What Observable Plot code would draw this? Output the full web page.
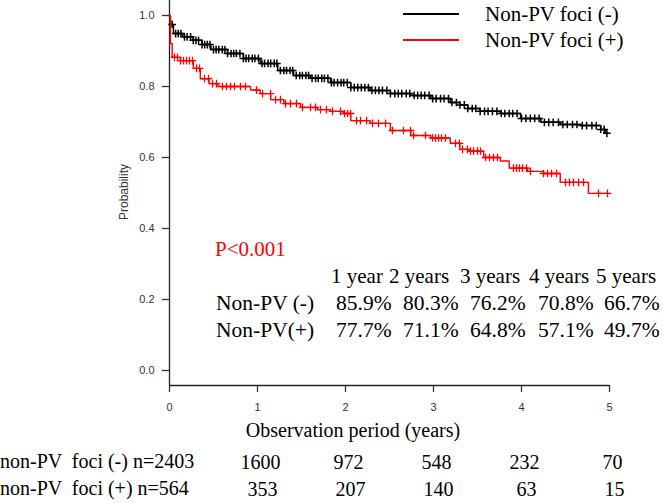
<!DOCTYPE html>
<html><head><meta charset="utf-8">
<script src="https://cdn.jsdelivr.net/npm/d3@7"></script>
<script src="https://cdn.jsdelivr.net/npm/@observablehq/plot@0.6"></script>
<style>body{margin:0;background:#fff} svg{display:block}</style>
</head><body><div id="chart"></div>
<script>
// ---- data ----
const xTicks = [0, 1, 2, 3, 4, 5];
const yTicks = [0, 0.2, 0.4, 0.6, 0.8, 1.0];
const groups = ["Non-PV foci (-)", "Non-PV foci (+)"];
const groupColors = ["#000000", "#ff0000"];
const yLabel = "Probability";
const xLabel = "Observation period (years)";
const pText = "P<0.001";

// Kaplan-Meier step points
const negTime = [0, 0.01, 0.045, 0.15, 0.27, 0.37, 0.47, 0.66, 0.84, 1.03, 1.23, 1.41, 1.60, 1.83, 2.06, 2.28, 2.51, 2.74, 2.97, 3.19, 3.30, 3.39, 3.53, 3.76, 3.99, 4.22, 4.44, 4.67, 4.90, 4.95, 4.98];
const negSurv = [1.0, 0.975, 0.949, 0.940, 0.930, 0.918, 0.904, 0.893, 0.879, 0.865, 0.845, 0.831, 0.823, 0.811, 0.797, 0.789, 0.780, 0.775, 0.766, 0.755, 0.748, 0.738, 0.730, 0.724, 0.710, 0.699, 0.693, 0.690, 0.679, 0.668, 0.668];
const posTime = [0, 0.01, 0.03, 0.125, 0.27, 0.35, 0.45, 0.55, 0.92, 1.03, 1.15, 1.30, 1.49, 1.68, 1.83, 1.98, 2.06, 2.28, 2.51, 2.74, 2.97, 3.19, 3.30, 3.39, 3.57, 3.76, 3.86, 4.07, 4.25, 4.44, 4.76, 4.98];
const posSurv = [1.0, 0.921, 0.882, 0.873, 0.851, 0.822, 0.808, 0.800, 0.790, 0.780, 0.763, 0.752, 0.741, 0.735, 0.730, 0.724, 0.704, 0.696, 0.676, 0.662, 0.655, 0.640, 0.623, 0.618, 0.600, 0.590, 0.570, 0.561, 0.555, 0.530, 0.499, 0.499];

// censoring marks (years)
const negCensor = [0.03,0.07,0.1,0.13,0.17,0.2,0.24,0.27,0.3,0.33,0.37,0.4,0.43,0.46,0.5,0.53,0.56,0.6,0.63,0.66,0.7,0.73,0.76,0.8,0.84,0.87,0.9,0.94,0.97,1.01,1.05,1.08,1.12,1.15,1.19,1.22,1.26,1.3,1.33,1.37,1.4,1.44,1.48,1.51,1.55,1.58,1.62,1.66,1.69,1.73,1.76,1.8,1.84,1.87,1.91,1.95,1.98,2.02,2.06,2.1,2.14,2.18,2.22,2.26,2.3,2.34,2.38,2.42,2.47,2.51,2.56,2.6,2.64,2.69,2.73,2.78,2.82,2.86,2.9,2.95,2.99,3.03,3.08,3.12,3.17,3.21,3.26,3.3,3.35,3.39,3.44,3.48,3.53,3.58,3.62,3.67,3.72,3.77,3.81,3.86,3.9,3.95,4.0,4.05,4.1,4.15,4.2,4.26,4.31,4.36,4.42,4.47,4.52,4.58,4.63,4.69,4.74,4.8,4.85,4.9,4.94,4.97];
const posCensor = [0.057,0.091,0.125,0.159,0.193,0.227,0.261,0.307,0.341,0.398,0.443,0.489,0.534,0.602,0.648,0.693,0.739,0.807,0.864,0.989,1.057,1.148,1.205,1.261,1.318,1.375,1.443,1.511,1.602,1.659,1.716,1.784,1.852,1.943,1.989,2.023,2.057,2.125,2.170,2.239,2.307,2.375,2.455,2.534,2.659,2.739,2.773,2.909,2.989,3.023,3.057,3.091,3.136,3.250,3.295,3.330,3.386,3.420,3.455,3.500,3.534,3.591,3.636,3.682,3.727,3.909,3.943,3.977,4.011,4.057,4.102,4.250,4.295,4.341,4.398,4.5,4.545,4.591,4.648,4.705,4.875,4.977];

const tableHeader = ["1 year", "2 years", "3 years", "4 years", "5 years"];
const tableRows = ["Non-PV (-)", "Non-PV(+)"];
const negPct = ["85.9%", "80.3%", "76.2%", "70.8%", "66.7%"];
const posPct = ["77.7%", "71.1%", "64.8%", "57.1%", "49.7%"];

const riskLabels = ["non-PV  foci (-) n=2403", "non-PV  foci (+) n=564"];
const riskTimes = [1, 2, 3, 4, 5];
const negRisk = [1600, 972, 548, 232, 70];
const posRisk = [353, 207, 140, 63, 15];

// ---- build ----
const SERIF = "'Liberation Serif','Times New Roman',serif";
const SANS = "'Liberation Sans',Arial,sans-serif";
const yMin = -15/355, yMax = 1 + 15/355;

function stepAt(times, surv, t) {
  const i = d3.bisectRight(times, t) - 1;
  return surv[Math.max(0, i)];
}
const negLine = negTime.map((t, i) => ({t, s: negSurv[i]}));
const posLine = posTime.map((t, i) => ({t, s: posSurv[i]}));
const negMarks = negCensor.map(t => ({t, s: stepAt(negTime, negSurv, t)}));
const posMarks = posCensor.map(t => ({t, s: stepAt(posTime, posSurv, t)}));

const chart = Plot.plot({
  width: 663, height: 503,
  marginLeft: 169, marginRight: 54, marginTop: 0, marginBottom: 118,
  x: {domain: [0, 5]},
  y: {domain: [yMin, yMax]},
  style: {background: "#fff", overflow: "visible"},
  marks: [
    Plot.ruleX([0], {y1: yMin, y2: yMax, stroke: "#222", strokeWidth: 1.3}),
    Plot.ruleY([yMin], {x1: 0, x2: 5, stroke: "#222", strokeWidth: 1.3}),
    Plot.axisX({ticks: xTicks, tickSize: 7, tickPadding: 11, tickFormat: d => d, label: null,
      fontSize: 11, fontFamily: SANS, color: "#333", strokeWidth: 1.3}),
    Plot.axisY({ticks: yTicks, tickSize: 7, tickPadding: 8, tickFormat: d3.format(".1f"), label: null,
      fontSize: 11, fontFamily: SANS, color: "#333", strokeWidth: 1.3}),
    Plot.line(negLine, {x: "t", y: "s", curve: "step-after", stroke: groupColors[0], strokeWidth: 1.5}),
    Plot.dot(negMarks, {x: "t", y: "s", symbol: "plus", r: 2.6, stroke: groupColors[0], strokeWidth: 1.5}),
    Plot.line(posLine, {x: "t", y: "s", curve: "step-after", stroke: groupColors[1], strokeWidth: 1.4}),
    Plot.dot(posMarks, {x: "t", y: "s", symbol: "plus", r: 2.6, stroke: groupColors[1], strokeWidth: 1.3}),
    Plot.text(riskTimes, {x: d => d, text: (d, i) => String(negRisk[i]), frameAnchor: "bottom", lineAnchor: "bottom",
      dx: 3, dy: 83, fontSize: 20, fontFamily: SERIF, fill: "#000"}),
    Plot.text(riskTimes, {x: d => d, text: (d, i) => String(posRisk[i]), frameAnchor: "bottom", lineAnchor: "bottom",
      dx: 5, dy: 110, fontSize: 20, fontFamily: SERIF, fill: "#000"})
  ]
});
document.getElementById("chart").appendChild(chart);

const svg = d3.select(chart);
const g = svg.append("g");
function txt(x, y, s, o = {}) {
  return g.append("text").attr("x", x).attr("y", y).text(s)
    .attr("font-family", o.family || SERIF).attr("font-size", o.size || 20)
    .attr("fill", o.fill || "#000").attr("text-anchor", o.anchor || "start")
    .style("white-space", "pre");
}
// y label
txt(0, 0, yLabel, {family: SANS, size: 12, fill: "#333", anchor: "middle"})
  .attr("transform", "translate(128,192) rotate(-90)");
// x label
txt(353, 437, xLabel, {anchor: "middle"});
// legend
groups.forEach((name, i) => {
  const y = 14 + i * 26;
  g.append("line").attr("x1", 403).attr("x2", 459).attr("y1", y).attr("y2", y)
    .attr("stroke", groupColors[i]).attr("stroke-width", 2);
  txt(485, y + 7, name, {size: 21});
});
// p value
txt(215, 256, pText, {fill: "#ff0000", size: 21});
// survival table
const headX = [331, 389, 460, 529, 596];
const valX = [336, 403, 470, 538, 604];
tableHeader.forEach((h, i) => txt(headX[i], 283, h, {size: 21}));
[negPct, posPct].forEach((row, r) => {
  txt(216, 310 + r * 27, tableRows[r], {size: 21.5});
  row.forEach((v, i) => txt(valX[i], 310 + r * 27, v, {size: 21.5}));
});
// at-risk row labels
riskLabels.forEach((l, r) => txt(0, 468 + r * 27, l));
</script></body></html>
